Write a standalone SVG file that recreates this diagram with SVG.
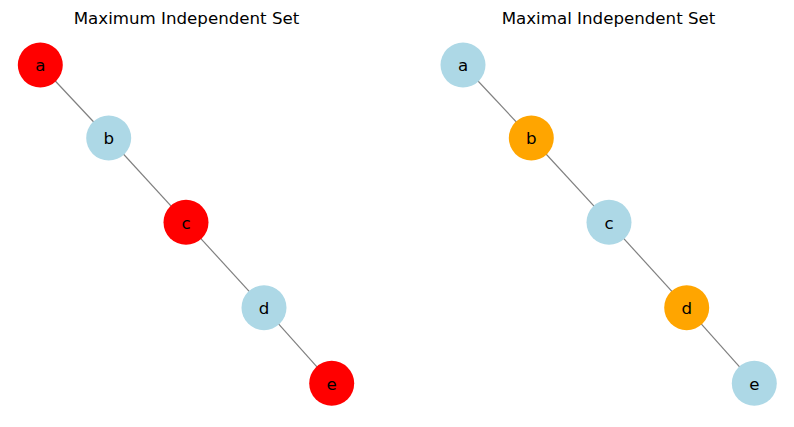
<svg xmlns="http://www.w3.org/2000/svg" width="794" height="427" viewBox="0 0 794 427">
<style>
.t{font-family:"DejaVu Sans",sans-serif;font-size:16.67px;fill:#000;text-anchor:middle}
.l{font-family:"DejaVu Sans",sans-serif;font-size:16.67px;fill:#000;text-anchor:middle}
.e{stroke:#808080;stroke-width:1.2;fill:none}
.red{fill:#ff0000}.blue{fill:#add8e6}.orange{fill:#ffa500}
</style>
<rect width="794" height="427" fill="#fff"/>
<text class="t" x="186.5" y="24">Maximum Independent Set</text>
<text class="t" x="608.5" y="24">Maximal Independent Set</text>
<g id="edges">
<line class="e" x1="40.3" y1="65" x2="108.7" y2="138"/>
<line class="e" x1="108.7" y1="138" x2="186" y2="222.3"/>
<line class="e" x1="186" y1="222.3" x2="264" y2="307.7"/>
<line class="e" x1="264" y1="307.7" x2="331.7" y2="383.3"/>
<line class="e" x1="463" y1="65" x2="531.3" y2="138"/>
<line class="e" x1="531.3" y1="138" x2="609" y2="222.3"/>
<line class="e" x1="609" y1="222.3" x2="686.7" y2="307.7"/>
<line class="e" x1="686.7" y1="307.7" x2="754.3" y2="383.3"/>
</g>
<g id="L_a"><circle class="red" cx="40.3" cy="65" r="22.5"/><text class="l" x="40.3" y="71.3">a</text></g>
<g id="L_b"><circle class="blue" cx="108.7" cy="138" r="22.5"/><text class="l" x="108.7" y="144.3">b</text></g>
<g id="L_c"><circle class="red" cx="186" cy="222.3" r="22.5"/><text class="l" x="186" y="228.6">c</text></g>
<g id="L_d"><circle class="blue" cx="264" cy="307.7" r="22.5"/><text class="l" x="264" y="314">d</text></g>
<g id="L_e"><circle class="red" cx="331.7" cy="383.3" r="22.5"/><text class="l" x="331.7" y="389.6">e</text></g>
<g id="R_a"><circle class="blue" cx="463" cy="65" r="22.5"/><text class="l" x="463" y="71.3">a</text></g>
<g id="R_b"><circle class="orange" cx="531.3" cy="138" r="22.5"/><text class="l" x="531.3" y="144.3">b</text></g>
<g id="R_c"><circle class="blue" cx="609" cy="222.3" r="22.5"/><text class="l" x="609" y="228.6">c</text></g>
<g id="R_d"><circle class="orange" cx="686.7" cy="307.7" r="22.5"/><text class="l" x="686.7" y="314">d</text></g>
<g id="R_e"><circle class="blue" cx="754.3" cy="383.3" r="22.5"/><text class="l" x="754.3" y="389.6">e</text></g>
</svg>
